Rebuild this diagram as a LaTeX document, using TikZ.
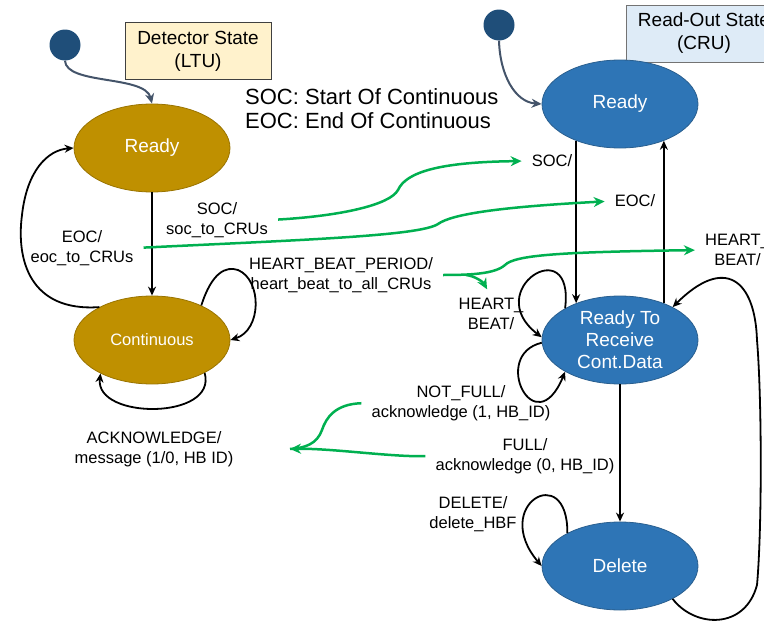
\documentclass[tikz,border=0pt]{standalone}
\usepackage{fontspec}
\setmainfont{Liberation Sans}
\usetikzlibrary{arrows.meta,shapes.geometric}
\definecolor{ltugold}{HTML}{BF9000}
\definecolor{ltuedge}{HTML}{9A7400}
\definecolor{crublue}{HTML}{2E75B6}
\definecolor{cruedge}{HTML}{2A5F8F}
\definecolor{initdot}{HTML}{1F4E79}
\definecolor{initline}{HTML}{44546A}
\definecolor{msggreen}{HTML}{00B050}
\definecolor{ltubox}{HTML}{FFF2CC}
\definecolor{crubox}{HTML}{DEEBF7}

\begin{document}
\begin{tikzpicture}[x=1pt,y=-1pt,
  fsm/.style={ellipse, minimum width=156pt, minimum height=88pt, inner sep=0pt,
    line width=0.8pt, text=white, font=\fontsize{19}{22}\selectfont, align=center},
  ltustate/.style={fsm, fill=ltugold, draw=ltuedge},
  crustate/.style={fsm, fill=crublue, draw=cruedge},
  startdot/.style={circle, fill=initdot, minimum size=31pt, inner sep=0pt},
  titlebox/.style={rectangle, draw=black!75, line width=0.8pt, minimum height=57pt,
    font=\fontsize{19}{23}\selectfont, align=center, inner sep=0pt},
  lbl/.style={font=\fontsize{16.5}{19.5}\selectfont, align=center, inner sep=2pt},
  trans/.style={draw=black, line width=1.8pt, -{Stealth[length=9pt,width=8pt]}},
  init/.style={draw=initline, line width=2pt, -{Stealth[length=10pt,width=9pt]}},
  msg/.style={draw=msggreen, line width=2.5pt, -{Stealth[length=11pt,width=10pt]},
    shorten <=8pt, shorten >=8pt},
]
\useasboundingbox (0,0) rectangle (764,621);

% ---------------- Detector side (LTU) ----------------
\node[startdot] (d1) at (65,45) {};
\node[titlebox, fill=ltubox, minimum width=146pt] (ltu) at (198,51) {Detector State\\(LTU)};
\node[ltustate] (L1) at (152,148) {Ready};
\node[ltustate, font=\fontsize{16.5}{20}\selectfont] (L2) at (152,340) {Continuous};

\node[anchor=west, align=left, inner sep=0pt, font=\fontsize{22}{24}\selectfont]
  (legend) at (245,109) {SOC: Start Of Continuous\\EOC: End Of Continuous};

\draw[init] (d1.south) .. controls (66,85) and (145,75) .. (L1.north);
\draw[trans] (L1.south) -- (L2.north);
\draw[trans] (L2.148) .. controls (30,312) and (16,260) .. (22,215)
  .. controls (27,170) and (48,150) .. (L1.west);
\draw[trans] (L2.35) .. controls (212,272) and (226,266) .. (238,270)
  .. controls (262,280) and (262,330) .. (L2.east);
\draw[trans] (L2.-32) .. controls (218,420) and (95,420) .. (L2.213);

\node[lbl] (socL) at (217,220) {SOC/\\soc\_to\_CRUs};
\node[lbl] (eocL) at (82,248) {EOC/\\eoc\_to\_CRUs};
\node[lbl] (hbL) at (341,275) {HEART\_BEAT\_PERIOD/\\heart\_beat\_to\_all\_CRUs};
\node[lbl] (ackL) at (154,449) {ACKNOWLEDGE/\\message (1/0, HB ID)};

% ---------------- Read-out side (CRU) ----------------
\node[startdot] (d2) at (499,25) {};
\node[titlebox, fill=crubox, draw=black!55, minimum width=156pt] (cru) at (704,33.5) {Read-Out State\\(CRU)};
\node[crustate] (R1) at (620,104) {Ready};
\node[crustate] (R2) at (620,340) {Ready To\\Receive\\Cont.Data};
\node[crustate] (R3) at (620,566) {Delete};

\draw[init] (d2.south) .. controls (500,75) and (515,102) .. (R1.west);
\draw[trans] (R1.220) -- (R2.140);
\draw[trans] (R2.40) -- (R1.320);
\draw[trans] (R2.south) -- (R3.north);
\draw[trans] (R2.150) .. controls (575,230) and (480,290) .. (R2.178);
\draw[trans] (R2.182) .. controls (490,355) and (535,445) .. (R2.210);
\draw[trans] (R3.148) .. controls (568,460) and (490,505) .. (R3.west);
\draw[trans] (R3.-32) .. controls (695,628) and (745,630) .. (757,585)
  .. controls (762,530) and (762,400) .. (757,340)
  .. controls (755,280) and (725,255) .. (R2.32);

\node[lbl] (socR) at (552,161) {SOC/};
\node[lbl] (eocR) at (635,201) {EOC/};
\node[lbl] (hbR1) at (737.5,250) {HEART\_\\BEAT/};
\node[lbl] (hbR2) at (491,314) {HEART\_\\BEAT/};
\node[lbl] (nfL) at (461,403) {NOT\_FULL/\\acknowledge (1, HB\_ID)};
\node[lbl] (fL) at (525,456) {FULL/\\acknowledge (0, HB\_ID)};
\node[lbl] (dL) at (473,514) {DELETE/\\delete\_HBF};

% ---------------- Messages between the two machines ----------------
\coordinate (hbfork) at (466,275);
\coordinate (ackin) at (290,449);

\draw[msg] (socL.east) .. controls (340,216) and (390,205) .. (398,190)
  .. controls (406,172) and (440,162) .. (socR.west);
\draw[msg] (eocL.east) .. controls (300,240) and (420,236) .. (438,224)
  .. controls (452,214) and (500,207) .. (eocR.west);
\draw[msg] (hbL.east) .. controls (470,275) and (495,274) .. (505,265)
  .. controls (515,255) and (560,252) .. (hbR1.west);
\draw[msg, shorten <=0pt] (hbfork) .. controls (475,276) and (483,282) .. (hbR2.north);
\draw[msg, -, shorten >=0pt] (nfL.west) .. controls (335,404) and (326,418) .. (322,430)
  .. controls (317,444) and (305,448) .. (ackin);
\draw[msg, shorten >=0pt] (fL.west) .. controls (390,457) and (330,448) .. (ackin);
\end{tikzpicture}
\end{document}
